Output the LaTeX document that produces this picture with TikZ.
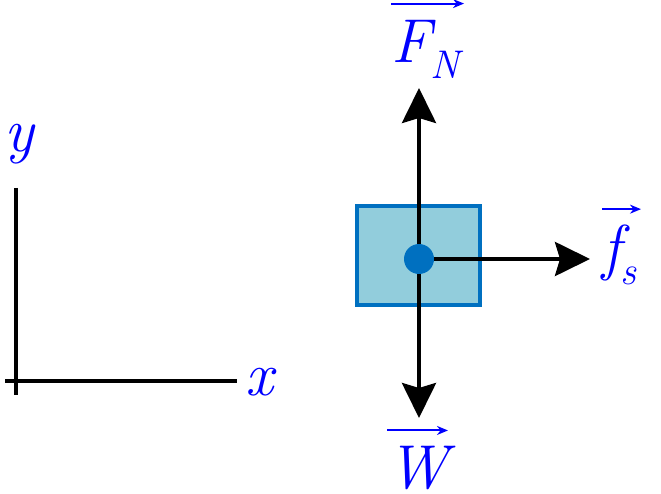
\documentclass[tikz,border=0pt]{standalone}
\usepackage{fontspec}
\usetikzlibrary{arrows.meta}
\definecolor{boxblue}{RGB}{0,112,192}
\definecolor{boxfill}{RGB}{146,205,220}
\definecolor{labelblue}{RGB}{0,0,255}
\tikzset{
  force/.style={line width=4pt, -{Stealth[length=35pt,width=34pt,inset=5pt]}},
  axis/.style={line width=4pt},
  vlabel/.style={text=labelblue, inner sep=0pt, anchor=base west, font=\itshape\fontsize{62}{70}\selectfont},
  vecbar/.style={draw=labelblue, line width=2pt, -{Stealth[length=11pt,width=9pt]}}
}
\newcommand{\subtxt}[1]{\raisebox{-16pt}{\fontsize{40}{44}\selectfont #1}}

\begin{document}
\begin{tikzpicture}[x=1pt,y=-1pt]
        \useasboundingbox (0,0) rectangle (661,494);
        % axes
        \draw[axis] (16,188) coordinate (ytop) -- (16,395) coordinate (ybot);
        \draw[axis] (5,381) coordinate (xleft) -- (237,381) coordinate (xright);
        \node[vlabel] (ylab) at (4,152) {y};
        \node[vlabel] (xlab) at (245,395) {x};
        % block and forces
        \node[draw=boxblue, fill=boxfill, line width=4pt, minimum width=123pt, minimum height=99pt, inner sep=0pt] (block) at (418.5,255.5) {};
        \coordinate (cm) at (419,259);
        \coordinate (ntip) at (419,88);
        \coordinate (wtip) at (419,418);
        \coordinate (ftip) at (590,259);
        \draw[force] (cm) -- (ntip);
        \draw[force] (cm) -- (wtip);
        \draw[force] (cm) -- (ftip);
        \node[circle, fill=boxblue, minimum size=30pt, inner sep=0pt] (dot) at (cm) {};
        % labels
        \node[vlabel] (FN) at (391,63) {F\subtxt{N}};
        \node[vlabel] (fs) at (602,269) {f\subtxt{s}};
        \node[vlabel] (W) at (387,488) {W};
        \draw[vecbar] ([yshift=17pt]FN.north west) -- ([yshift=17pt,xshift=4pt]FN.north east);
        \draw[vecbar] ([yshift=16pt]fs.north west) -- ([yshift=16pt,xshift=4pt]fs.north east);
        \draw[vecbar] ([yshift=15pt]W.north west) -- ([yshift=15pt]W.north east);
      \end{tikzpicture}
\end{document}
